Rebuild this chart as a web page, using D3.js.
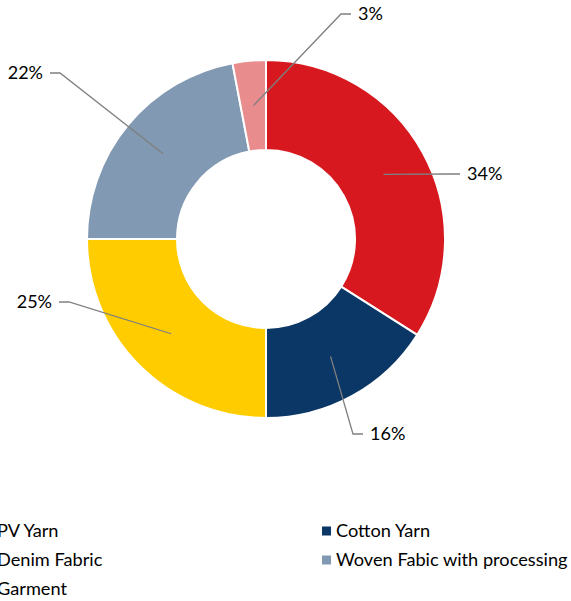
<!DOCTYPE html>
<html>
<head>
<meta charset="utf-8">
<script src="https://cdn.jsdelivr.net/npm/d3@7/dist/d3.min.js"></script>
<style>
  html, body { margin: 0; padding: 0; background: #fff; overflow: hidden; }
  svg { display: block; }
  text { font-family: Lato, "Open Sans", sans-serif; fill: #000; }
</style>
</head>
<body>
<svg id="chart" width="571" height="601"></svg>
<script>
// Segments of the product mix, clockwise from 12 o'clock
const categories = ["PV Yarn", "Cotton Yarn", "Denim Fabric", "Woven Fabic with processing", "Garment"];
const shares = [34, 16, 25, 22, 3];
const colors = ["#D7191F", "#0B3766", "#FFCC00", "#8199B2", "#E98C8E"];

// Leader-line bend points, relative to the donut centre
const elbowOffsets = [[184, -65], [87, 195], [-197, 63], [-206, -166], [75, -225]];

const width = 571, height = 601;
const cx = 266, cy = 239;
const outerR = 179, innerR = 89;

const svg = d3.select("#chart");
const g = svg.append("g").attr("transform", `translate(${cx},${cy})`);

const pie = d3.pie().value(d => d).sort(null);
const arc = d3.arc().innerRadius(innerR).outerRadius(outerR);
const arcs = pie(shares);

g.selectAll("path.slice")
  .data(arcs)
  .join("path")
  .attr("class", "slice")
  .attr("d", arc)
  .attr("fill", (d, i) => colors[i])
  .attr("stroke", "#fff")
  .attr("stroke-width", 2);

// Leader lines and percentage labels
arcs.forEach((d, i) => {
  const [sx, sy] = arc.centroid(d);
  const [ex, ey] = elbowOffsets[i];
  const dir = ex >= sx ? 1 : -1;
  const tx = ex + dir * 10;
  g.append("polyline")
    .attr("points", `${sx},${sy} ${ex},${ey} ${tx},${ey}`)
    .attr("fill", "none")
    .attr("stroke", "#7F7F7F")
    .attr("stroke-width", 1.3);
  g.append("text")
    .attr("x", tx + dir * 7)
    .attr("y", ey)
    .attr("dy", "0.35em")
    .attr("text-anchor", dir > 0 ? "start" : "end")
    .attr("font-size", 18)
    .text(d3.format(".0%")(d.data / d3.sum(shares)));
});

// Legend in two columns, row by row
const legendX = [-17, 322], legendY0 = 531, rowGap = 29;
const legend = svg.append("g");
categories.forEach((c, i) => {
  const col = i % 2, row = Math.floor(i / 2);
  const x = legendX[col], y = legendY0 + row * rowGap;
  legend.append("rect")
    .attr("x", x).attr("y", y - 4.5)
    .attr("width", 9).attr("height", 9)
    .attr("fill", colors[i]);
  legend.append("text")
    .attr("x", x + 14).attr("y", y)
    .attr("dy", "0.35em")
    .attr("font-size", 18.2)
    .text(c);
});
</script>
</body>
</html>
